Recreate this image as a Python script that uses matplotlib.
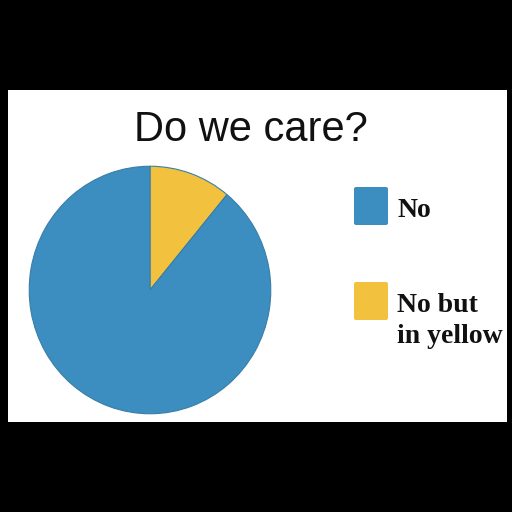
import matplotlib
matplotlib.use("Agg")
import matplotlib.pyplot as plt
from matplotlib.patches import Rectangle, FancyBboxPatch

title = "Do we care?"
labels = ["No", "No but\nin yellow"]
shares = [89, 11]
colors = ["#3c8dc0", "#f2c23e"]

W = H = 512
fig = plt.figure(figsize=(W / 100, H / 100), dpi=100, facecolor="black")

# white card behind everything
fig.patches.append(Rectangle((8 / W, (H - 422) / H), 499 / W, 332 / H,
                             transform=fig.transFigure, facecolor="white",
                             edgecolor="none", zorder=0))

fig.text(251 / W, 1 - 141 / H, title, ha="center", va="baseline",
         fontsize=30, family="Liberation Sans", color="#111111")

# pie, centred around (150, 290) px
cx, cy, rx, ry = 150, 290, 122, 125
ax = fig.add_axes([(cx - rx) / W, (H - cy - ry) / H, 2 * rx / W, 2 * ry / H])
ax.set_zorder(3)
ax.patch.set_visible(False)
ax.pie(shares[::-1], colors=colors[::-1], startangle=90, counterclock=False,
       wedgeprops=dict(edgecolor="#3a7ea6", linewidth=0.8))
ax.set_aspect("auto")
ax.set_xlim(-1.01, 1.01)
ax.set_ylim(-1.01, 1.01)
ax.axis("off")

# legend
box_y = [187, 282]
for lab, col, y in zip(labels, colors, box_y):
    fig.patches.append(FancyBboxPatch((354 / W, (H - y - 38) / H), 34 / W, 38 / H,
                                      boxstyle="round,pad=0,rounding_size=0.004",
                                      transform=fig.transFigure, facecolor=col,
                                      edgecolor="none", zorder=2))
    fig.text(397 / W, 1 - (y + 11) / H, lab, ha="left", va="top",
             fontsize=20, family="Liberation Serif", fontweight="bold",
             color="#111111", linespacing=1.3, zorder=4)

fig.savefig("out.png", dpi=100, facecolor="black")
